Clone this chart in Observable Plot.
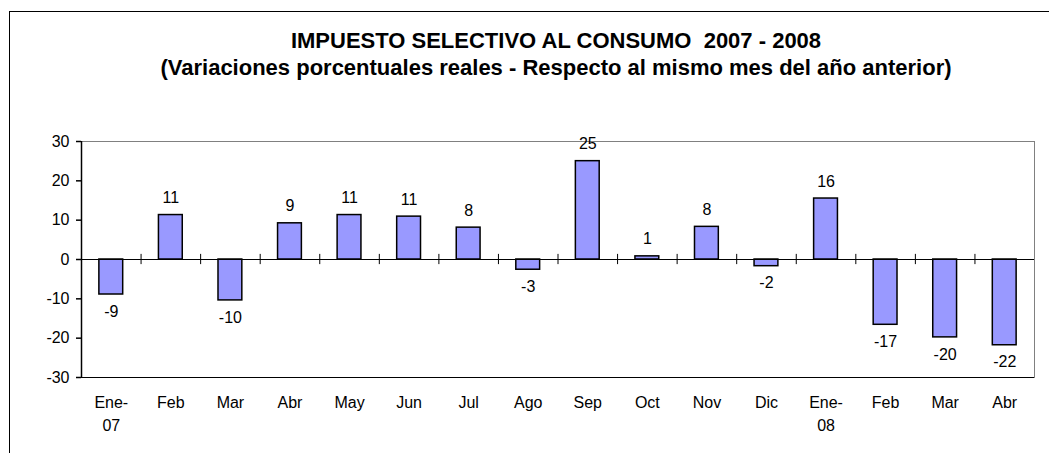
<!DOCTYPE html>
<html>
<head>
<meta charset="utf-8">
<script src="https://cdn.jsdelivr.net/npm/d3@7"></script>
<script src="https://cdn.jsdelivr.net/npm/@observablehq/plot@0.6"></script>
<style>
  html, body { margin: 0; padding: 0; background: #fff; }
  #wrap { position: relative; width: 1049px; height: 453px; overflow: hidden; font-family: "Liberation Sans", Arial, sans-serif; }
  #frame { position: absolute; left: 9px; top: 11px; width: 1100px; height: 500px; border-left: 1px solid #000; border-top: 1px solid #000; }
  #title { position: absolute; left: 0; width: 1112px; top: 28px; text-align: center; font-weight: bold; font-size: 22px; line-height: 26.5px; color: #000; }
  #chart { position: absolute; left: 0; top: 0; }
</style>
</head>
<body>
<div id="wrap">
  <div id="frame"></div>
  <div id="title">IMPUESTO SELECTIVO AL CONSUMO&nbsp; 2007 - 2008<br>(Variaciones porcentuales reales - Respecto al mismo mes del año anterior)</div>
  <div id="chart"></div>
</div>
<script>
const months = ["Ene-\n07","Feb","Mar","Abr","May","Jun","Jul","Ago","Sep","Oct","Nov","Dic","Ene-\n08","Feb","Mar","Abr"];
const values = [-8.9, 11.3, -10.4, 9.2, 11.3, 10.9, 8.1, -2.6, 25.0, 0.8, 8.3, -1.7, 15.5, -16.6, -19.8, -21.8];
const labels = [-9, 11, -10, 9, 11, 11, 8, -3, 25, 1, 8, -2, 16, -17, -20, -22];
const yTicks = [-30, -20, -10, 0, 10, 20, 30];

const data = months.map((m, i) => ({i, m, v: values[i], lab: labels[i]}));
const n = months.length;

const chart = Plot.plot({
  width: 1049,
  height: 453,
  marginLeft: 81,
  marginRight: 15,
  marginTop: 141,
  marginBottom: 76,
  style: {fontFamily: "'Liberation Sans', Arial, sans-serif", fontSize: "16px", color: "#000", background: "transparent"},
  x: {type: "linear", domain: [0, n], label: null},
  y: {domain: [-30, 30], label: null},
  marks: [
    Plot.frame({stroke: "#808080", strokeWidth: 1}),
    Plot.ruleY([-30], {stroke: "#000"}),
    Plot.ruleX([0], {stroke: "#000", strokeWidth: 1.5}),
    Plot.rectY(data, {x1: d => d.i + 0.3, x2: d => d.i + 0.7, y1: 0, y2: "v", fill: "#9999FF", stroke: "#000", strokeWidth: 1.5}),
    Plot.ruleY([0], {stroke: "#000", strokeWidth: 1}),
    Plot.ruleX(d3.range(1, n), {x: d => d, y1: -1.3, y2: 1.3, stroke: "#000", strokeWidth: 1}),
    Plot.axisY({ticks: yTicks, tickSize: 5, tickPadding: 7, fontSize: 16, label: null, tickFormat: d => String(d), stroke: "#000", strokeWidth: 1.5}),
    Plot.axisX({ticks: d3.range(n).map(i => i + 0.5), tickSize: 0, tickPadding: 14, fontSize: 16, label: null, tickFormat: d => months[Math.floor(d)], lineHeight: 1.44}),
    Plot.text(data.filter(d => d.v >= 0), {x: d => d.i + 0.5, y: "v", text: d => String(d.lab), dy: -17, fontSize: 16, fill: "#000"}),
    Plot.text(data.filter(d => d.v < 0), {x: d => d.i + 0.5, y: "v", text: d => String(d.lab), dy: 17, fontSize: 16, fill: "#000"})
  ]
});
document.getElementById("chart").appendChild(chart);
</script>
</body>
</html>
